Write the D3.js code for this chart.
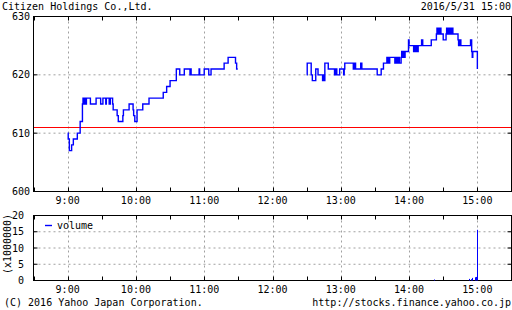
<!DOCTYPE html>
<html lang="ja">
<head>
  <meta charset="UTF-8">
  <title>Citizen Holdings Co.,Ltd.</title>
  <script src="https://cdn.jsdelivr.net/npm/d3@7"></script>
  <style>
    body { margin: 0; background: #fff; }
    svg text { font-family: "DejaVu Sans Mono", monospace; font-size: 10px; fill: #000; }
  </style>
</head>
<body>
  <div id="container"></div>

  <script>
    // price change points, morning session
    const amTimes = ["9:00", "9:00:30", "9:01:30", "9:03:30", "9:05", "9:08:30", "9:11", "9:13",
      "9:13:30", "9:14", "9:14:30", "9:15", "9:15:30", "9:16", "9:16:30", "9:20", "9:25", "9:29",
      "9:31", "9:33:30", "9:34", "9:36:30", "9:37:30", "9:39:30", "9:40", "9:43:30", "9:44:30",
      "9:48:30", "9:49", "9:54", "9:57:30", "9:58", "9:59", "10:01", "10:06", "10:11:30", "10:24",
      "10:27", "10:30", "10:35:30", "10:38:30", "10:42:30", "10:47:30", "10:48", "10:48:30",
      "10:55:30", "10:56", "11:00", "11:04", "11:06", "11:17:30", "11:21", "11:27:30", "11:28:30",
      "11:29:30"];
    const amPrices = [610, 609, 607, 608, 609, 610, 612, 615,
      616, 615, 616, 615, 616, 615, 616, 615, 616, 615,
      616, 615, 616, 615, 616, 615, 614, 613, 612,
      613, 614, 615, 614, 613, 612, 614, 615, 616, 617,
      618, 619, 621, 620, 621, 620, 621, 620,
      621, 620, 621, 620, 621, 622, 623, 622, 621,
      621];

    // price change points, afternoon session
    const pmTimes = ["12:30", "12:30:30", "12:34", "12:35", "12:38", "12:40", "12:44", "12:44:30",
      "12:45", "12:46", "12:49", "12:54:30", "12:55", "12:55:30", "12:56", "12:56:30", "12:59",
      "13:02:30", "13:03", "13:03:30", "13:11", "13:11:30", "13:12", "13:12:30", "13:13", "13:17:30",
      "13:18:30", "13:32", "13:35:30", "13:37:30", "13:40:30", "13:41", "13:41:30", "13:42", "13:43",
      "13:47:30", "13:48", "13:48:30", "13:49", "13:49:30", "13:50", "13:50:30", "13:51", "13:51:30",
      "13:53", "13:53:30", "13:54", "13:54:30", "13:55", "13:55:30", "13:56", "13:56:30", "13:57:30",
      "13:59:30", "14:00", "14:04", "14:04:30", "14:05", "14:05:30", "14:06:30", "14:07", "14:07:30",
      "14:08", "14:11", "14:12", "14:19:30", "14:24", "14:24:30", "14:25", "14:25:30", "14:26",
      "14:26:30", "14:27", "14:27:30", "14:28", "14:30", "14:32:30", "14:33", "14:33:30", "14:34",
      "14:34:30", "14:35", "14:35:30", "14:36", "14:36:30", "14:37", "14:37:30", "14:38", "14:38:30",
      "14:43", "14:43:30", "14:44", "14:44:30", "14:45", "14:45:30", "14:46", "14:54", "14:55",
      "14:55:30", "14:56", "15:00"];
    const pmPrices = [620, 622, 620, 619, 621, 620, 619, 620,
      619, 622, 621, 620, 621, 620, 621, 620, 621,
      620, 621, 622, 621, 622, 621, 622, 621, 622,
      621, 620, 621, 622, 623, 622, 623, 622, 623,
      622, 623, 622, 623, 622, 623, 622, 623, 622,
      623, 624, 623, 624, 623, 624, 623, 624, 624,
      626, 625, 624, 625, 624, 625, 624, 625, 624,
      625, 626, 625, 626, 627, 628, 627, 628, 627,
      628, 627, 628, 627, 626, 627, 628, 627, 628,
      627, 628, 627, 628, 627, 628, 627, 628, 627,
      626, 625, 626, 625, 626, 625, 625, 626, 624,
      623, 624, 621];

    const prevClose = 611;

    // volume (x1000000)
    const sessions = [["9:00", "11:30"], ["12:30", "15:00"]];
    const volTimes = ["14:21:30", "14:52:30", "14:54", "14:55:30", "14:57:30", "14:59", "15:00"];
    const volValues = [0.3, 0.5, 0.4, 0.8, 1.0, 1.1, 15.6];

    const priceTicks = [600, 610, 620, 630];
    const volTicks = [0, 5, 10, 15, 20];
    const hourLabels = ["9:00", "10:00", "11:00", "12:00", "13:00", "14:00", "15:00"];

    const blue = "#0000ff";
    const red = "#ff0000";
    const grid = "#a0a0a0";

    const width = 512;
    const height = 310;

    const toMin = t => {
      const [h, m, s] = t.split(":").map(Number);
      return h * 60 + m + (s || 0) / 60;
    };

    const svg = d3.select("#container")
      .append("svg")
      .attr("width", width)
      .attr("height", height);

    // scales
    const x = d3.scaleLinear().domain([toMin("8:30"), toMin("15:30")]).range([33.5, 511.5]);
    const yP = d3.scaleLinear().domain([600, 630]).range([191.5, 16.5]);
    const yV = d3.scaleLinear().domain([0, 20]).range([280.5, 215.5]);

    const halfHours = d3.range(toMin("8:30"), toMin("15:30") + 1, 30);
    const hours = hourLabels.map(toMin);

    function panel(y, ticks, top, bottom) {
      const g = svg.append("g");
      // dashed grid
      g.selectAll(".vgrid").data(hours).enter().append("line")
        .attr("x1", d => Math.round(x(d)) + 0.5).attr("x2", d => Math.round(x(d)) + 0.5)
        .attr("y1", top).attr("y2", bottom)
        .attr("stroke", grid).attr("stroke-dasharray", "2 3");
      g.selectAll(".hgrid").data(ticks.slice(1, -1)).enter().append("line")
        .attr("x1", x.range()[0]).attr("x2", x.range()[1])
        .attr("y1", d => y(d)).attr("y2", d => y(d))
        .attr("stroke", grid).attr("stroke-dasharray", "2 3");
      return g;
    }

    function frame(y, ticks, top, bottom) {
      const g = svg.append("g").attr("stroke", "#000").attr("stroke-width", 1);
      g.append("rect")
        .attr("x", x.range()[0]).attr("y", top)
        .attr("width", x.range()[1] - x.range()[0]).attr("height", bottom - top)
        .attr("fill", "none");
      halfHours.forEach(d => {
        const px = Math.round(x(d)) + 0.5;
        g.append("line").attr("x1", px).attr("x2", px).attr("y1", top).attr("y2", top + 4);
        g.append("line").attr("x1", px).attr("x2", px).attr("y1", bottom).attr("y2", bottom - 4);
      });
      ticks.forEach(d => {
        g.append("line").attr("x1", x.range()[0]).attr("x2", x.range()[0] + 4).attr("y1", y(d)).attr("y2", y(d));
        g.append("line").attr("x1", x.range()[1]).attr("x2", x.range()[1] - 4).attr("y1", y(d)).attr("y2", y(d));
      });
    }

    // price panel
    panel(yP, priceTicks, 16.5, 191.5);

    svg.append("line")
      .attr("x1", x.range()[0]).attr("x2", x.range()[1])
      .attr("y1", Math.round(yP(prevClose)) + 0.5).attr("y2", Math.round(yP(prevClose)) + 0.5)
      .attr("stroke", red).attr("stroke-width", 1);

    const priceLine = d3.line()
      .x(d => x(toMin(d[0])))
      .y(d => yP(d[1]))
      .curve(d3.curveStepAfter);

    [[amTimes, amPrices], [pmTimes, pmPrices]].forEach(([ts, ps]) => {
      svg.append("path")
        .datum(ts.map((t, i) => [t, ps[i]]))
        .attr("d", priceLine)
        .attr("fill", "none")
        .attr("stroke", blue)
        .attr("stroke-width", 1.4);
    });

    frame(yP, priceTicks, 16.5, 191.5);

    // volume panel
    panel(yV, volTicks, 215.5, 280.5);

    svg.selectAll(".session").data(sessions).enter().append("line")
      .attr("x1", d => x(toMin(d[0]))).attr("x2", d => x(toMin(d[1])))
      .attr("y1", yV(0)).attr("y2", yV(0))
      .attr("stroke", blue).attr("stroke-width", 1);

    frame(yV, volTicks, 215.5, 280.5);

    svg.selectAll(".vol").data(volTimes).enter().append("line")
      .attr("x1", d => Math.round(x(toMin(d))) + 0.5).attr("x2", d => Math.round(x(toMin(d))) + 0.5)
      .attr("y1", yV(0)).attr("y2", (d, i) => yV(volValues[i]))
      .attr("stroke", blue).attr("stroke-width", 1);

    // axis labels
    svg.selectAll(".py").data(priceTicks).enter().append("text")
      .attr("x", 30).attr("y", d => yP(d) + 3.5)
      .attr("text-anchor", "end").text(d => d);
    svg.selectAll(".vy").data(volTicks).enter().append("text")
      .attr("x", 24).attr("y", d => yV(d) + 3.5)
      .attr("text-anchor", "end").text(d => d);
    [203.5, 293].forEach(ty => {
      svg.append("g").selectAll("text").data(hourLabels).enter().append("text")
        .attr("x", d => x(toMin(d))).attr("y", ty)
        .attr("text-anchor", "middle").text(d => d);
    });

    svg.append("text")
      .attr("transform", "translate(11, 244) rotate(-90)")
      .attr("text-anchor", "middle").text("(x1000000)");

    // legend
    svg.append("line").attr("x1", 45).attr("x2", 52).attr("y1", 225.5).attr("y2", 225.5)
      .attr("stroke", blue).attr("stroke-width", 1.4);
    svg.append("text").attr("x", 57).attr("y", 229).text("volume");

    // header and footer
    svg.append("text").attr("x", 2).attr("y", 10).text("Citizen Holdings Co.,Ltd.");
    svg.append("text").attr("x", 511).attr("y", 10).attr("text-anchor", "end").text("2016/5/31 15:00");
    svg.append("text").attr("x", 4).attr("y", 306).text("(C) 2016 Yahoo Japan Corporation.");
    svg.append("text").attr("x", 511).attr("y", 306).attr("text-anchor", "end").text("http://stocks.finance.yahoo.co.jp");
  </script>
</body>
</html>
